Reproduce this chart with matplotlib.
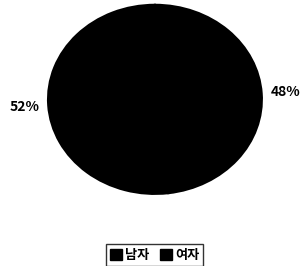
import matplotlib
matplotlib.use("Agg")
import matplotlib.pyplot as plt
from matplotlib.patches import Patch

plt.rcParams['font.family'] = ['Noto Sans CJK KR', 'DejaVu Sans']

# 성별 비율
labels = ["남자", "여자"]
values = [48, 52]
colors = ["black", "black"]

fig = plt.figure(figsize=(3.0, 2.66), dpi=100)
ax = fig.add_axes([0.16, 0.271, 0.713, 0.711])

wedges, texts, autotexts = ax.pie(
    values,
    colors=colors,
    startangle=90,
    counterclock=False,
    autopct="%d%%",
    pctdistance=1.22,
    wedgeprops={"edgecolor": "black", "linewidth": 1.5},
    textprops={"fontsize": 10, "fontweight": "bold", "color": "black"},
)
ax.set_aspect("auto")
ax.set_xlim(-1.0, 1.0)
ax.set_ylim(-1.0, 1.0)

handles = [Patch(facecolor=c, edgecolor=c) for c in colors]
fig.legend(
    handles,
    labels,
    loc="center",
    bbox_to_anchor=(0.515, 0.04),
    ncol=2,
    frameon=True,
    fancybox=False,
    edgecolor="black",
    prop={"size": 9.5, "weight": "bold"},
    handlelength=0.9,
    handleheight=0.9,
    handletextpad=0.25,
    columnspacing=0.8,
    borderpad=0.3,
)

fig.savefig("out.png", dpi=100)
